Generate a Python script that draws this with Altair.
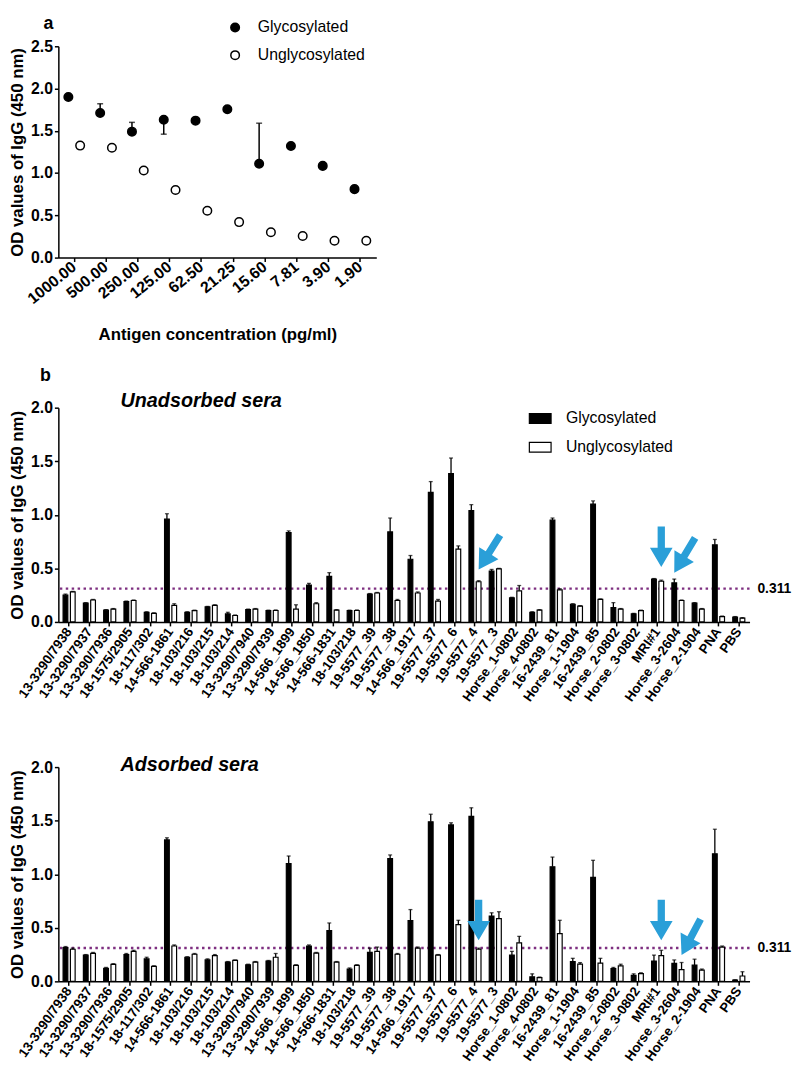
import altair as alt
import pandas as pd

# ---------------- Panel a data ----------------
conc = ["1000.00", "500.00", "250.00", "125.00", "62.50", "21.25", "15.60", "7.81", "3.90", "1.90"]
glyco = [1.90, 1.71, 1.49, 1.63, 1.62, 1.755, 1.11, 1.32, 1.085, 0.81]
glyco_err = [None, 1.82, 1.60, 1.46, None, None, 1.59, None, None, None]
unglyco = [1.325, 1.30, 1.03, 0.80, 0.555, 0.42, 0.30, 0.255, 0.20, 0.20]

# ---------------- Panel b data ----------------
samples = ["13-3290/7938", "13-3290/7937", "13-3290/7936", "18-1575/2905", "18-117/302",
           "14-566-1861", "18-103/216", "18-103/215", "18-103/214", "13-3290/7940",
           "13-3290/7939", "14-566_1899", "14-566_1850", "14-566-1831", "18-103/218",
           "19-5577_39", "19-5577_38", "14-566_1917", "19-5577_37", "19-5577_6",
           "19-5577_4", "19-5577_3", "Horse_1-0802", "Horse_4-0802", "16-2439_81",
           "Horse_1-1904", "16-2439_85", "Horse_2-0802", "Horse_3-0802", "MRI#1",
           "Horse_3-2604", "Horse_2-1904", "PNA", "PBS"]

unads_glyco = [0.25, 0.175, 0.11, 0.19, 0.09, 0.96, 0.09, 0.14, 0.075, 0.115,
               0.105, 0.835, 0.345, 0.425, 0.105, 0.26, 0.84, 0.585, 1.21, 1.385,
               1.04, 0.475, 0.225, 0.09, 0.95, 0.165, 1.10, 0.135, 0.075, 0.40,
               0.365, 0.175, 0.72, 0.045]
unads_glyco_err = [0.26, 0.18, 0.115, 0.195, 0.095, 1.01, 0.095, 0.145, 0.09, 0.12,
                   0.11, 0.85, 0.36, 0.46, 0.11, 0.265, 0.97, 0.62, 1.31, 1.53,
                   1.095, 0.49, 0.23, 0.095, 0.97, 0.17, 1.13, 0.18, 0.08, 0.405,
                   0.40, 0.18, 0.77, 0.05]
unads_unglyco = [0.28, 0.205, 0.12, 0.20, 0.08, 0.155, 0.105, 0.155, 0.06, 0.12,
                 0.107, 0.12, 0.17, 0.11, 0.107, 0.27, 0.20, 0.27, 0.195, 0.68,
                 0.375, 0.495, 0.29, 0.11, 0.30, 0.147, 0.21, 0.12, 0.105, 0.38,
                 0.20, 0.12, 0.05, 0.035]
unads_unglyco_err = [0.285, 0.21, 0.125, 0.205, 0.085, 0.17, 0.11, 0.16, 0.065, 0.125,
                     0.112, 0.16, 0.18, 0.115, 0.112, 0.275, 0.21, 0.28, 0.21, 0.71,
                     0.385, 0.50, 0.34, 0.115, 0.31, 0.152, 0.215, 0.125, 0.11, 0.39,
                     0.205, 0.125, 0.055, 0.04]

ads_glyco = [0.315, 0.245, 0.122, 0.25, 0.21, 1.32, 0.225, 0.20, 0.18, 0.155,
             0.19, 1.10, 0.33, 0.475, 0.115, 0.27, 1.147, 0.567, 1.49, 1.46,
             1.54, 0.61, 0.245, 0.043, 1.07, 0.185, 0.97, 0.12, 0.055, 0.19,
             0.168, 0.152, 1.19, 0.012]
ads_glyco_err = [0.325, 0.25, 0.13, 0.26, 0.225, 1.34, 0.23, 0.21, 0.185, 0.16,
                 0.195, 1.17, 0.34, 0.545, 0.125, 0.31, 1.18, 0.67, 1.56, 1.48,
                 1.62, 0.64, 0.28, 0.07, 1.16, 0.215, 1.13, 0.13, 0.07, 0.245,
                 0.20, 0.207, 1.42, 0.015]
ads_unglyco = [0.30, 0.262, 0.158, 0.28, 0.14, 0.33, 0.253, 0.24, 0.195, 0.18,
               0.225, 0.15, 0.263, 0.18, 0.15, 0.28, 0.253, 0.31, 0.245, 0.53,
               0.30, 0.585, 0.36, 0.035, 0.445, 0.16, 0.17, 0.145, 0.073, 0.24,
               0.11, 0.104, 0.32, 0.05]
ads_unglyco_err = [0.31, 0.27, 0.165, 0.29, 0.145, 0.34, 0.26, 0.25, 0.20, 0.185,
                   0.26, 0.155, 0.27, 0.185, 0.155, 0.32, 0.26, 0.32, 0.25, 0.57,
                   0.31, 0.65, 0.42, 0.04, 0.57, 0.175, 0.215, 0.16, 0.08, 0.29,
                   0.176, 0.115, 0.33, 0.09]

cutoff = 0.311

# arrows: target sample, target series, tip value, rotation
arrow_unads_sample = ["19-5577_4", "MRI#1", "Horse_3-2604"]
arrow_unads_series = ["Unglycosylated", "Unglycosylated", "Glycosylated"]
arrow_unads_tip = [0.49, 0.512, 0.46]
arrow_unads_angle = [32, 0, 31]

arrow_ads_sample = ["19-5577_4", "MRI#1", "Horse_3-2604"]
arrow_ads_series = ["Unglycosylated", "Unglycosylated", "Unglycosylated"]
arrow_ads_tip = [0.384, 0.384, 0.247]
arrow_ads_angle = [0, 0, 28]

# ---------------- styling ----------------
FONT = "Liberation Sans"
G, U = "Glycosylated", "Unglycosylated"
SERIES = [G, U]
SHIFT = {G: -3.7, U: 3.7}
BLUE = "#2A9FD8"
PURPLE = "#7E2F80"
ARROW = "M0,0 L-0.56,-0.95 L-0.18,-0.95 L-0.18,-2 L0.18,-2 L0.18,-0.95 L0.56,-0.95 Z"
RECT = "M-1,-0.45 L1,-0.45 L1,0.45 L-1,0.45 Z"
YTITLE = "OD values of IgG (450 nm)"


def y_axis(values):
    return alt.Axis(title=YTITLE, grid=False, values=values, format=".1f",
                    domainColor="black", domainWidth=1.5, tickColor="black", tickWidth=1.5,
                    tickSize=4, labelFont=FONT, labelFontSize=16, labelFontWeight="bold",
                    labelColor="black", labelPadding=2, titleFont=FONT, titleFontSize=17,
                    titleFontWeight="bold", titleColor="black", titlePadding=4)


def x_axis(title, angle, size, tpad=10):
    return alt.Axis(title=title, grid=False, labelAngle=angle, labelAlign="right",
                    labelBaseline="middle", domainColor="black", domainWidth=1.5,
                    tickColor="black", tickWidth=1.5, tickSize=4, labelFont=FONT,
                    labelFontSize=size, labelFontWeight="bold", labelColor="black",
                    labelPadding=3, titleFont=FONT, titleFontSize=17, titleFontWeight="bold",
                    titleColor="black", titlePadding=tpad, labelOverlap=False)


def text_layer(label, x, y, size, style="normal", align="center"):
    return alt.Chart(pd.DataFrame({"t": [label]})).mark_text(
        font=FONT, fontSize=size, fontWeight="bold", fontStyle=style, align=align,
        baseline="middle", color="black").encode(text="t:N", x=alt.value(x), y=alt.value(y))


# ---------------- Panel a ----------------
n_a = len(conc)
df_a = pd.DataFrame({"conc": conc * 2, "series": [G] * n_a + [U] * n_a,
                     "value": glyco + unglyco, "err": glyco_err + [None] * n_a})
x_a = alt.X("conc:N", sort=conc, scale=alt.Scale(domain=conc, paddingInner=0, paddingOuter=0),
            axis=x_axis("Antigen concentration (pg/ml)", -39, 16, tpad=20))
xo_a = alt.XOffset("series:N", sort=SERIES,
                   scale=alt.Scale(domain=SERIES, paddingInner=0, paddingOuter=0.35))
yax_a = y_axis([0, 0.5, 1, 1.5, 2, 2.5])
ysc_a = alt.Scale(domain=[0, 2.5])

err_a = alt.Chart(df_a).transform_filter("isValid(datum.err)").mark_rule(
    color="black", strokeWidth=1.5).encode(
    x=x_a, xOffset=xo_a, y=alt.Y("value:Q", scale=ysc_a, axis=yax_a), y2="err:Q")
cap_a = alt.Chart(df_a).transform_filter("isValid(datum.err)").mark_tick(
    color="black", thickness=1.5, size=6).encode(
    x=x_a, xOffset=xo_a, y=alt.Y("err:Q", scale=ysc_a, axis=yax_a))
pts_a = alt.Chart(df_a).mark_point(filled=True, size=75, stroke="black", strokeWidth=1.5,
                                   opacity=1).encode(
    x=x_a, xOffset=xo_a, y=alt.Y("value:Q", scale=ysc_a, axis=yax_a),
    fill=alt.Fill("series:N", sort=SERIES,
                  scale=alt.Scale(domain=SERIES, range=["black", "white"]),
                  legend=alt.Legend(title=None, orient="none", legendX=171, legendY=-27,
                                    padding=0, labelFont=FONT, labelFontSize=16,
                                    labelColor="black", symbolType="circle", symbolSize=75,
                                    symbolStrokeColor="black", symbolStrokeWidth=1.5,
                                    labelOffset=15, rowPadding=12)))
panel_a = alt.layer(err_a, cap_a, pts_a, text_layer("a", -10, -23, 18)).properties(
    width=322, height=214)


# ---------------- Panel b ----------------
def bar_panel(g, gerr, u, uerr, title, title_y, leg_y, leg_pad,
              a_sample, a_series, a_tip, a_angle, letter=None):
    n = len(samples)
    df = pd.DataFrame({"sample": samples * 2, "series": [G] * n + [U] * n,
                       "value": g + u, "err": gerr + uerr})
    adf = pd.DataFrame({"sample": a_sample, "series": a_series, "tip": a_tip, "angle": a_angle})
    thr = pd.DataFrame({"cut": [cutoff], "lab": [str(cutoff)]})

    x = alt.X("sample:N", sort=samples,
              scale=alt.Scale(domain=samples, paddingInner=0, paddingOuter=0.03),
              axis=x_axis(None, -55, 13.5))
    yax = y_axis([0, 0.5, 1, 1.5, 2])
    ysc = alt.Scale(domain=[0, 2])
    fill = alt.Fill("series:N", sort=SERIES,
                    scale=alt.Scale(domain=SERIES, range=["black", "white"]),
                    legend=alt.Legend(title=None, orient="none", legendX=476, legendY=leg_y,
                                      padding=0, labelFont=FONT, labelFontSize=16,
                                      labelColor="black", symbolType=RECT, symbolSize=484,
                                      symbolStrokeColor="black", symbolStrokeWidth=1.2,
                                      labelOffset=14, rowPadding=leg_pad))

    layers = [alt.Chart(thr).mark_rule(color=PURPLE, strokeWidth=2.5,
                                       strokeDash=[2.5, 3.5]).encode(
        y=alt.Y("cut:Q", scale=ysc, axis=yax))]
    for s in SERIES:
        sel = f"datum.series == '{s}'"
        base = alt.Chart(df).transform_filter(sel)
        layers.append(base.mark_bar(stroke="black", strokeWidth=1.2, width=4.8,
                                    xOffset=SHIFT[s]).encode(
            x=x, y=alt.Y("value:Q", scale=ysc, axis=yax), fill=fill))
        layers.append(base.mark_rule(color="black", strokeWidth=1.3, xOffset=SHIFT[s]).encode(
            x=x, y=alt.Y("value:Q", scale=ysc, axis=yax), y2="err:Q"))
        layers.append(base.mark_tick(color="black", thickness=1.3, size=4,
                                     xOffset=SHIFT[s]).encode(
            x=x, y=alt.Y("err:Q", scale=ysc, axis=yax)))
    for s in SERIES:
        sel = f"datum.series == '{s}'"
        layers.append(alt.Chart(adf).transform_filter(sel).mark_point(
            shape=ARROW, filled=True, color=BLUE, size=1681, opacity=1, strokeWidth=0,
            xOffset=SHIFT[s]).encode(
            x=x, y=alt.Y("tip:Q", scale=ysc, axis=yax),
            angle=alt.Angle("angle:Q", scale=None)))
    layers.append(alt.Chart(thr).mark_text(font=FONT, fontSize=14, fontWeight="bold",
                                           align="left", baseline="middle",
                                           color="black").encode(
        y=alt.Y("cut:Q", scale=ysc, axis=yax), x=alt.value(708), text="lab:N"))
    layers.append(text_layer(title, 63, title_y, 20, style="italic", align="left"))
    if letter:
        layers.append(text_layer(letter, -13, -32, 18))
    return alt.layer(*layers).properties(width=700, height=217)


panel_b1 = bar_panel(unads_glyco, unads_glyco_err, unads_unglyco, unads_unglyco_err,
                     "Unadsorbed sera", -7, -1, 9,
                     arrow_unads_sample, arrow_unads_series, arrow_unads_tip, arrow_unads_angle,
                     letter="b")
panel_b2 = bar_panel(ads_glyco, ads_glyco_err, ads_unglyco, ads_unglyco_err,
                     "Adsorbed sera", -2, 3, 11,
                     arrow_ads_sample, arrow_ads_series, arrow_ads_tip, arrow_ads_angle)

panel_b = alt.vconcat(panel_b1, panel_b2, spacing=52)

chart = alt.vconcat(panel_a, panel_b, spacing=25).resolve_scale(
    x="independent", y="independent", fill="independent").resolve_legend(
    fill="independent").configure_view(stroke=None).properties(
    padding={"left": 0, "top": 0, "right": 0, "bottom": 0})

chart.save("out.html", embed_options={"renderer": "svg", "actions": False})
